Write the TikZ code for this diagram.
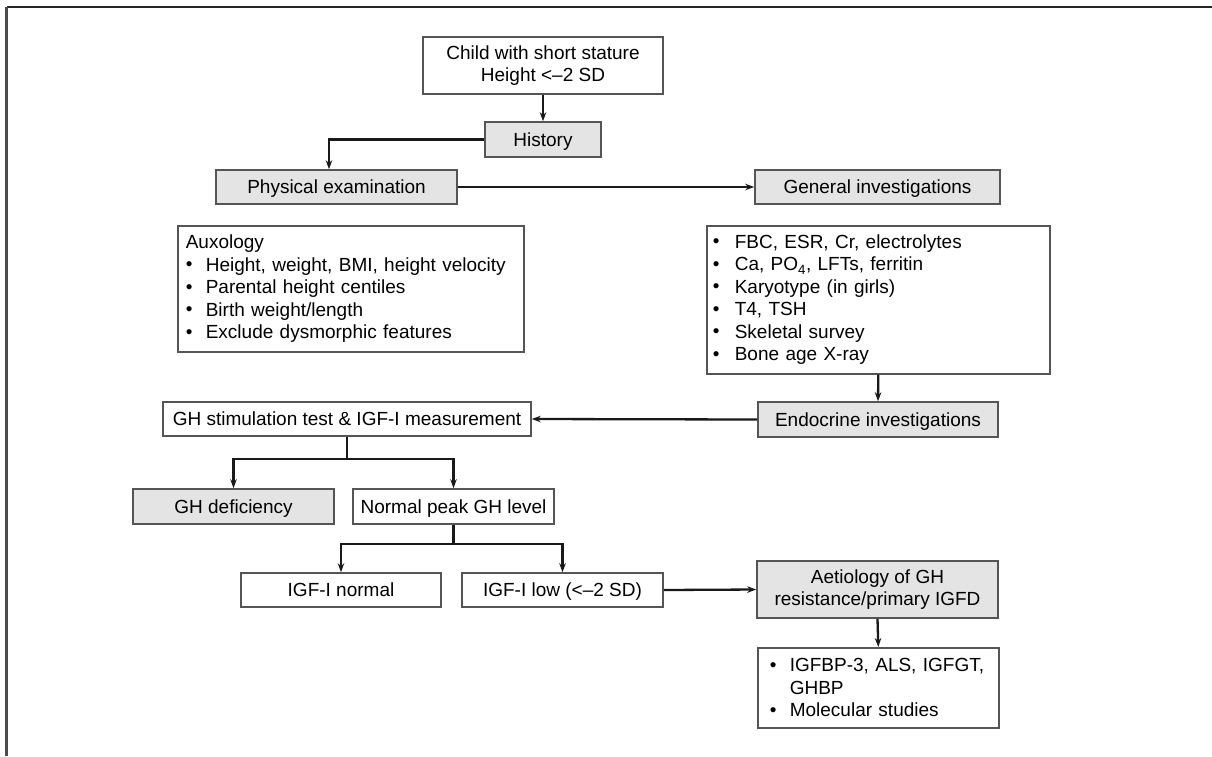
\documentclass[tikz,border=0pt]{standalone}
\usepackage{fontspec}
\setmainfont{Liberation Sans}
\usetikzlibrary{arrows.meta}
\definecolor{boxfill}{RGB}{228,228,228}
\definecolor{boxline}{RGB}{85,85,85}
\definecolor{conn}{RGB}{25,25,25}
\tikzset{
  box/.style={draw=boxline, line width=1.6pt, inner sep=0pt, align=center,
    font=\fontsize{19}{22.5}\selectfont},
  one/.style={text height=13.7pt, text depth=0pt},
  gbox/.style={box, fill=boxfill},
  listbox/.style={box, align=left},
  arr/.style={draw=conn, line width=2.3pt, -{Stealth[length=9pt,width=6.5pt]}},
  ln/.style={draw=conn, line width=2.3pt},
}
\newcommand{\bul}[1][20pt]{\makebox[#1][l]{\raisebox{0.5pt}{\textbullet}}}
\begin{document}
\begin{tikzpicture}[x=1pt,y=-1pt]
\useasboundingbox (0,0) rectangle (1212,756);
% frame (top and left only)
\draw[line width=2.2pt, draw=black!85] (6.5,7) -- (1212,7);
\draw[line width=2.2pt, draw=black!70] (6.5,7) -- (6.5,756);

\node[box, minimum width=240pt, minimum height=57pt] (child) at (543,65.5)
  {Child with short stature\\Height <\textendash2 SD};
\node[gbox, one, minimum width=116pt, minimum height=35pt] (hist) at (543,139.5) {History};
\node[gbox, one, minimum width=241pt, minimum height=34pt] (phys) at (336.5,187) {Physical examination};
\node[gbox, one, minimum width=245pt, minimum height=34pt] (gen) at (877.5,187) {General investigations};

\node[listbox, anchor=north west, minimum width=344pt, minimum height=126pt,
  text width=330pt, inner xsep=8pt] (aux) at (177,225)
  {Auxology\\
   \bul Height, weight, BMI, height velocity\\
   \bul Parental height centiles\\
   \bul Birth weight/length\\
   \bul Exclude dysmorphic features};

\node[listbox, anchor=north west, minimum width=343pt, minimum height=148pt,
  text width=331pt, inner xsep=6pt] (glist) at (706,225)
  {\bul[22pt]FBC, ESR, Cr, electrolytes\\
   \bul[22pt]Ca, PO\textsubscript{4}, LFTs, ferritin\\
   \bul[22pt]Karyotype (in girls)\\
   \bul[22pt]T4, TSH\\
   \bul[22pt]Skeletal survey\\
   \bul[22pt]Bone age X-ray};

\node[gbox, one, minimum width=240pt, minimum height=35pt] (endo) at (878,419.5) {Endocrine investigations};
\node[box, one, minimum width=368pt, minimum height=34pt] (ghst) at (347,419) {GH stimulation test \& IGF-I measurement};

\node[gbox, one, minimum width=201pt, minimum height=35pt] (ghd) at (233.5,506.5) {GH deficiency};
\node[box, one, minimum width=201pt, minimum height=35pt] (norm) at (453.5,506.5) {Normal peak GH level};

\node[box, one, minimum width=200pt, minimum height=34pt] (igfn) at (341,590) {IGF-I normal};
\node[box, one, minimum width=201pt, minimum height=34pt] (igfl) at (562.5,590) {IGF-I low (<\textendash2 SD)};

\node[gbox, minimum width=241pt, minimum height=57pt] (aet) at (877.5,589.5)
  {Aetiology of GH\\resistance/primary IGFD};

\node[listbox, anchor=north west, minimum width=241pt, minimum height=80pt,
  text width=217pt, inner xsep=12pt] (fin) at (757,647)
  {\bul IGFBP-3, ALS, IGFGT,\\
   \hspace*{20pt}GHBP\\
   \bul Molecular studies};

% connectors
\draw[arr] (child.south) -- (hist.north);
\draw[arr] (hist.west) -| ([xshift=-7.5pt]phys.north);
\draw[arr] (phys.east) -- (gen.west);
\draw[arr] (glist.south) -- (endo.north);
\draw[arr] (endo.west) -- (ghst.east);
\draw[ln] (ghst.south) -- ++(0,22) coordinate (b1);
\draw[arr] (b1) -| (ghd.north);
\draw[arr] (b1) -| (norm.north);
\draw[ln] (norm.south) -- ++(0,19) coordinate (b2);
\draw[arr] (b2) -| (igfn.north);
\draw[arr] (b2) -| (igfl.north);
\draw[arr] (igfl.east) -- (aet.west);
\draw[arr] (aet.south) -- (fin.north);
\end{tikzpicture}
\end{document}
